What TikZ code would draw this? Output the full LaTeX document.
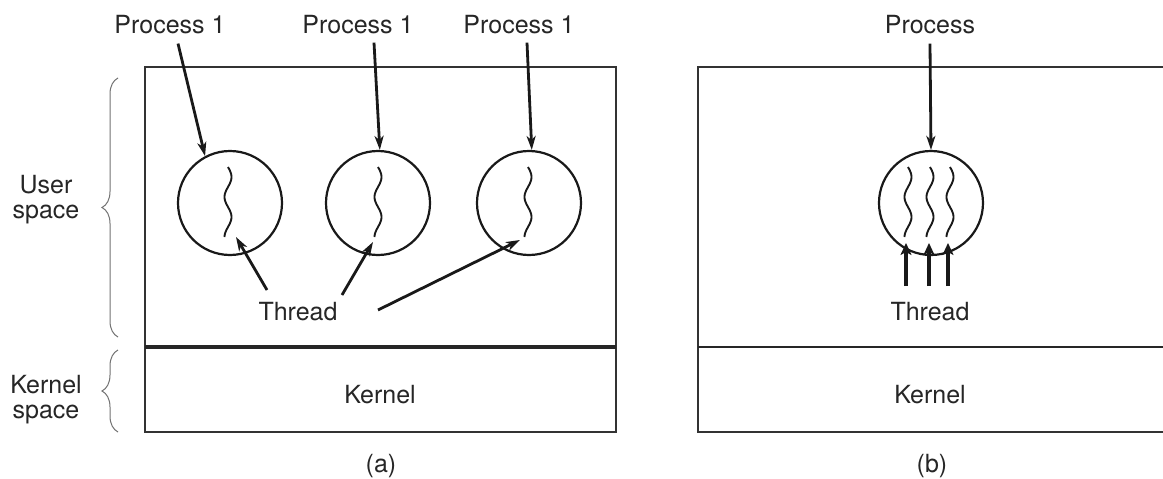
\documentclass[tikz,border=0pt]{standalone}
\usepackage{fontspec}
\setmainfont{TeX Gyre Heros}
\usetikzlibrary{arrows.meta,decorations.pathreplacing}

\begin{document}
\begin{tikzpicture}[x=1pt,y=-1pt,
  lbl/.style={font=\fontsize{25}{25}\selectfont, text=black!85, inner sep=0pt},
  frame/.style={draw=black!80, line width=2.8pt},
  divider/.style={draw=black!85, line width=#1},
  proc/.style={draw=black!90, line width=2.2pt, circle, minimum size=104pt, inner sep=0pt},
  ptr/.style={draw=black!90, line width=2.8pt, -{Stealth[length=14pt,width=9pt,inset=4pt]}},
  fatptr/.style={draw=black!90, line width=4pt, -{Stealth[length=12pt,width=11pt,inset=3pt]}},
  squig/.style={draw=black!90, line width=1.9pt},
  bracket/.style={draw=black!55, line width=1pt, decorate, decoration={brace, amplitude=16pt}}
]
\useasboundingbox (0,0) rectangle (1163,479);
\fill[white] (0,0) rectangle (1163,479);

% thread squiggle: a short vertical wave (period 40)
\newcommand{\wiggle}[2]{\draw[squig] plot[domain=0:70, samples=60, smooth]
  ({#1+3.5*sin(9*\x)}, {#2+\x});}

% ---------- (a) three processes, one thread each ----------
\draw[frame] (616,67) -- (145,67) -- (145,432) -- (616,432) -- cycle;
\draw[divider=4pt] (145,347) -- (616,347);

\node[proc] (c1) at (230,203) {};
\node[proc] (c2) at (378,203) {};
\node[proc] (c3) at (529,203) {};
\wiggle{228}{167}
\wiggle{378}{167}
\wiggle{528}{167}

\node[lbl, anchor=base] (p1) at (170,33) {Process 1};
\node[lbl, anchor=base] (p2) at (358,33) {Process 1};
\node[lbl, anchor=base] (p3) at (519,33) {Process 1};
\draw[ptr] ([xshift=8pt,yshift=-10pt]p1.south) -- (c1.118);
\draw[ptr] ([xshift=16pt,yshift=-9pt]p2.south) -- (c2.88);
\draw[ptr] ([xshift=8pt,yshift=-9pt]p3.south) -- (c3.87);

\node[lbl, anchor=base] (tha) at (298,320) {Thread};
\coordinate (ta1) at (267,290);
\coordinate (ta2) at (342,295);
\coordinate (ta3) at (378,310);
\coordinate (ha1) at (236,237);
\coordinate (ha2) at (373,242);
\coordinate (ha3) at (520,240);
\draw[ptr] (ta1) -- (ha1);
\draw[ptr] (ta2) -- (ha2);
\draw[ptr] (ta3) -- (ha3);

\node[lbl, anchor=base] (ka) at (380,403) {Kernel};
\node[lbl] (la) at (381,466) {(a)};

% ---------- (b) one process, three threads ----------
\draw[frame] (1165,67) -- (698,67) -- (698,432) -- (1165,432);
\draw[divider=2.5pt] (698,347) -- (1165,347);

\node[proc] (cb) at (931,203) {};
\wiggle{908}{167}
\wiggle{930}{167}
\wiggle{950}{167}

\node[lbl, anchor=base] (pb) at (930,33) {Process};
\draw[ptr] ([yshift=-10pt]pb.south) -- (cb.north);

\node[lbl, anchor=base] (thb) at (930,320) {Thread};
\coordinate (tb1) at (906,286);
\coordinate (tb2) at (929,286);
\coordinate (tb3) at (948,286);
\coordinate (hb1) at (906,243);
\coordinate (hb2) at (929,243);
\coordinate (hb3) at (948,243);
\draw[fatptr] (tb1) -- (hb1);
\draw[fatptr] (tb2) -- (hb2);
\draw[fatptr] (tb3) -- (hb3);

\node[lbl, anchor=base] (kb) at (930,403) {Kernel};
\node[lbl] (lb) at (932,466) {(b)};

% ---------- side braces ----------
\draw[bracket] (118,337) -- (118,78);
\draw[bracket] (118,432) -- (118,350);
\node[lbl, align=center] (us) at (46,200) {User\\space};
\node[lbl, align=center] (ks) at (46,400) {Kernel\\space};
\end{tikzpicture}
\end{document}
